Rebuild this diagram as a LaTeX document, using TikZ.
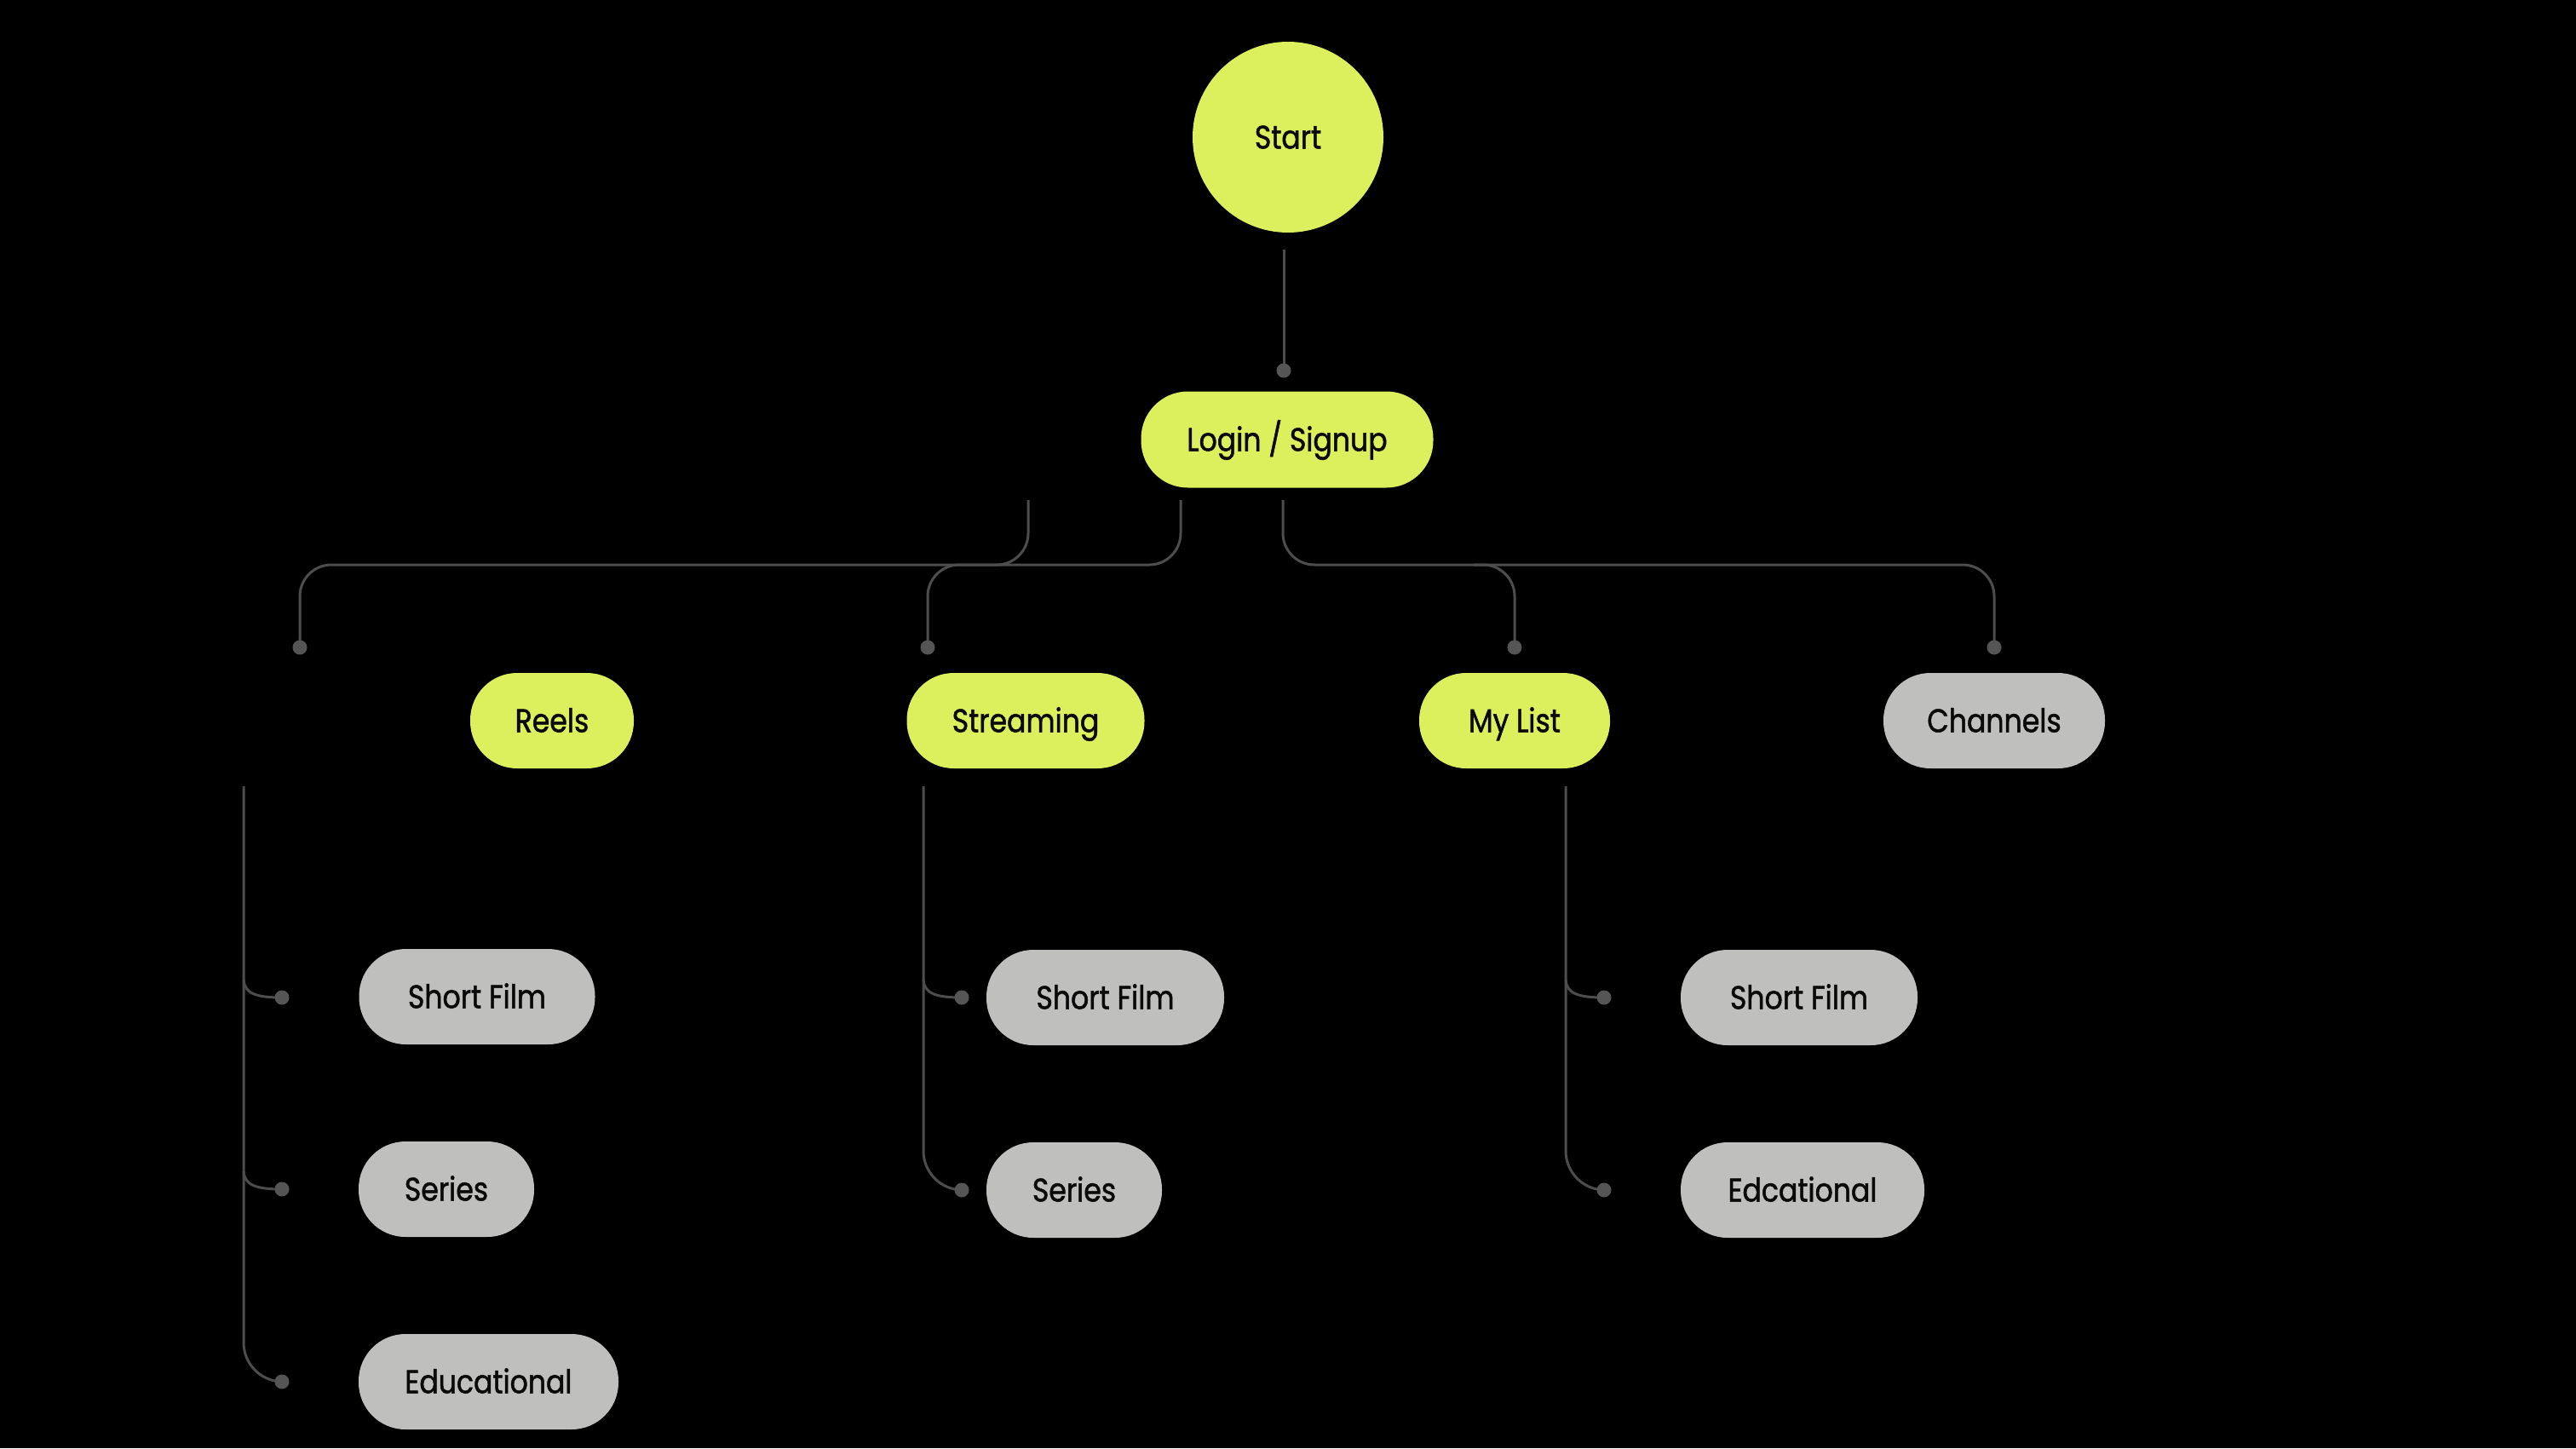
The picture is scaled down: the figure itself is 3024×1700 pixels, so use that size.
\documentclass[tikz,border=0pt]{standalone}
\usepackage{fontspec}
\setmainfont{Poppins}[FakeStretch=0.86, FakeBold=1.3, BoldFont={Poppins}, BoldFeatures={FakeStretch=0.86, FakeBold=1.3}]
\usetikzlibrary{calc}
\definecolor{lime}{HTML}{DCEF5C}
\definecolor{pill}{HTML}{BFBFBD}
\definecolor{wire}{HTML}{4D4D4D}
\definecolor{dotc}{HTML}{555555}
\definecolor{ink}{HTML}{0A0A0A}
\tikzset{
  base/.style={inner sep=0pt, text=ink, font=\fontsize{38.5}{40}\selectfont, minimum height=112pt, text height=27pt, text depth=0pt},
  limepill/.style={base, fill=lime, rectangle, rounded corners=55pt},
  graypill/.style={base, fill=pill, rectangle, rounded corners=55pt},
  wireline/.style={draw=wire, line width=3pt, rounded corners=37pt},
  twig/.style={draw=wire, line width=3pt},
  knob/.style={fill=dotc, draw=none, circle, minimum size=17pt, inner sep=0pt},
}
\begin{document}
\begin{tikzpicture}[x=1pt,y=-1pt]
\fill[black] (0,0) rectangle (3024,1700);
\useasboundingbox (0,0) rectangle (3024,1700);

% nodes
\node[base, circle, fill=lime, minimum size=224pt] (start) at (1512,161) {Start};
\node[limepill, minimum width=343pt, minimum height=113pt] (login) at (1511,516) {Login / Signup};
\node[limepill, minimum width=192pt] (reels) at (648,846) {Reels};
\node[limepill, minimum width=279pt] (streaming) at (1204,846) {Streaming};
\node[limepill, minimum width=224pt] (mylist) at (1778,846) {My List};
\node[graypill, minimum width=260pt] (channels) at (2341,846) {Channels};

\node[graypill, minimum width=277pt] (sfa) at (560,1170) {Short Film};
\node[graypill, minimum width=206pt] (sea) at (524,1396) {Series};
\node[graypill, minimum width=305pt] (eda) at (573.5,1622) {Educational};

\node[graypill, minimum width=279pt] (sfb) at (1297.5,1171) {Short Film};
\node[graypill, minimum width=206pt] (seb) at (1261,1397) {Series};

\node[graypill, minimum width=278pt] (sfc) at (2112,1171) {Short Film};
\node[graypill, minimum width=286pt] (edc) at (2116,1397) {Edcational};

% coordinates
\coordinate (s0) at (1507,293);
\coordinate (s1) at (1507,435);
\coordinate (l1) at (1207,587);
\coordinate (l2) at (1386,587);
\coordinate (l3) at (1506,587);
\coordinate (d1) at (352,760);
\coordinate (d2) at (1089,760);
\coordinate (d3) at (1778,760);
\coordinate (d4) at (2341,760);
\coordinate (ra) at (286,923);
\coordinate (rb) at (1084,923);
\coordinate (rc) at (1838,923);

% Start -> Login
\draw[twig] (s0) -- (s1);
\node[knob] at (s1) {};

% Login -> level 2
\draw[wireline] (l1) -- (1207,663) -- (352,663) -- (d1);
\draw[wireline] (l2) -- (1386,663) -- (1089,663) -- (d2);
\draw[wireline] (l3) -- (1506,663) -- (2341,663) -- (d4);
\draw[wireline] (1730,663) -- (1778,663) -- (d3);
\foreach \p in {d1,d2,d3,d4} \node[knob] at (\p) {};

% Reels column
\coordinate (ka) at (331,1171);
\coordinate (kb) at (331,1396);
\coordinate (kc) at (331,1622);
\draw[wireline, rounded corners=46pt] (ra) -- (286,1622) -- (kc);
\draw[twig] (286,1150) .. controls (287,1166) and (300,1171) .. (ka);
\draw[twig] (286,1375) .. controls (287,1391) and (300,1396) .. (kb);
\foreach \p in {ka,kb,kc} \node[knob] at (\p) {};

% Streaming column
\coordinate (kd) at (1129,1171);
\coordinate (ke) at (1129,1397);
\draw[wireline, rounded corners=46pt] (rb) -- (1084,1397) -- (ke);
\draw[twig] (1084,1150) .. controls (1085,1166) and (1098,1171) .. (kd);
\foreach \p in {kd,ke} \node[knob] at (\p) {};

% My List column
\coordinate (kf) at (1883,1171);
\coordinate (kg) at (1883,1397);
\draw[wireline, rounded corners=46pt] (rc) -- (1838,1397) -- (kg);
\draw[twig] (1838,1150) .. controls (1839,1166) and (1852,1171) .. (kf);
\foreach \p in {kf,kg} \node[knob] at (\p) {};
\end{tikzpicture}
\end{document}
